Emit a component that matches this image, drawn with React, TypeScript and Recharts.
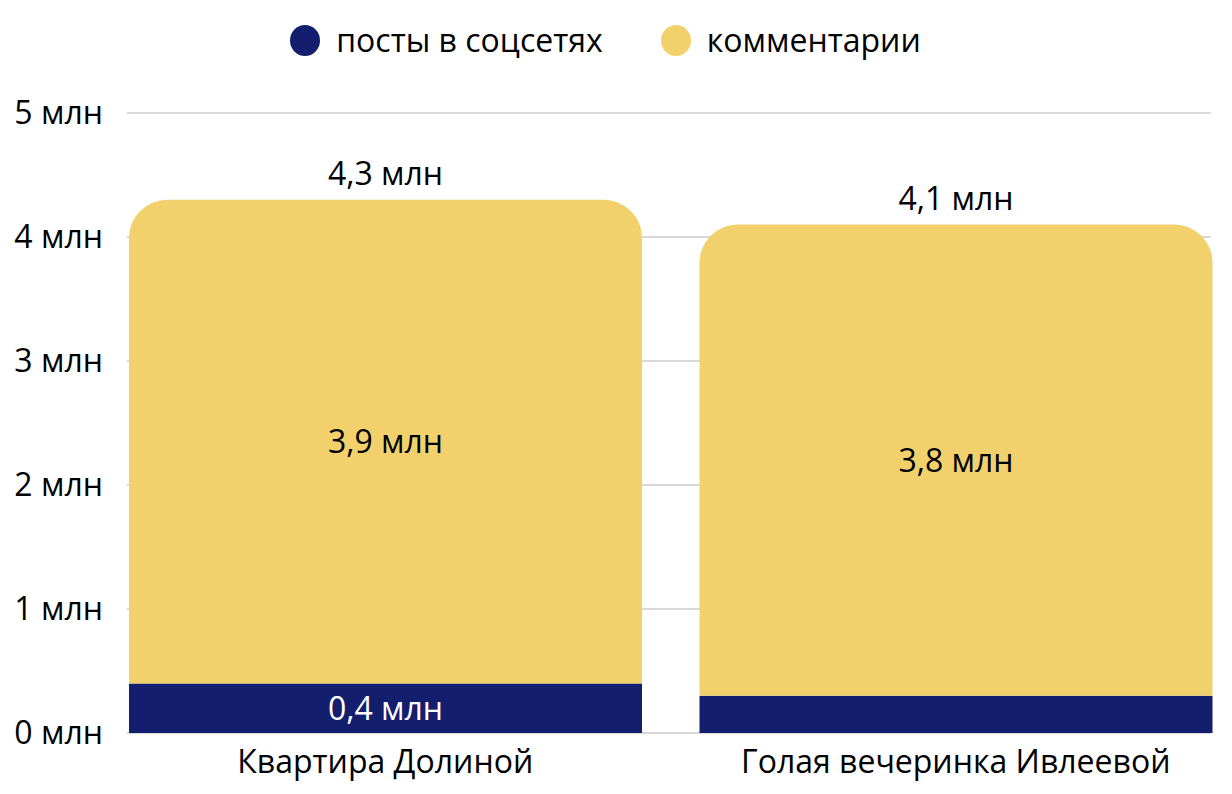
import React from 'react';
import {
  BarChart,
  Bar,
  XAxis,
  YAxis,
  CartesianGrid,
  Legend,
  LabelList,
} from 'recharts';

// categories and values (млн)
const categories = ['Квартира Долиной', 'Голая вечеринка Ивлеевой'];
const posts = [0.4, 0.3];
const comments = [3.9, 3.8];
const totals = [4.3, 4.1];
const postLabels = ['0,4 млн', ''];
const commentLabels = ['3,9 млн', '3,8 млн'];
const totalLabels = ['4,3 млн', '4,1 млн'];
const yTicks = [0, 1, 2, 3, 4, 5];

const NAVY = '#131f6e';
const YELLOW = '#f2d16d';
const FONT = '"Open Sans", sans-serif';

const data = categories.map((name, i) => ({
  name,
  posts: posts[i],
  comments: comments[i],
  total: totals[i],
  postLabel: postLabels[i],
  commentLabel: commentLabels[i],
  totalLabel: totalLabels[i],
}));

const legendItems = [
  { label: 'посты в соцсетях', color: NAVY },
  { label: 'комментарии', color: YELLOW },
];

function LegendContent() {
  return (
    <div
      style={{
        height: 103,
        display: 'flex',
        justifyContent: 'center',
        alignItems: 'flex-start',
        paddingTop: 8,
        boxSizing: 'border-box',
        fontFamily: FONT,
        fontSize: 32,
        color: '#000',
      }}
    >
      {legendItems.map((item) => (
        <div
          key={item.label}
          style={{ display: 'flex', alignItems: 'center', margin: '0 29px' }}
        >
          <span
            style={{
              display: 'inline-block',
              width: 30,
              height: 31,
              borderRadius: '50%',
              background: item.color,
              marginRight: 16,
            }}
          />
          <span style={{ lineHeight: '44px' }}>{item.label}</span>
        </div>
      ))}
    </div>
  );
}

export default function App() {
  return (
    <div style={{ position: 'absolute', left: 0, top: 0, background: '#fff' }}>
      <BarChart
        width={1232}
        height={794}
        data={data}
        margin={{ top: 10, right: 21, bottom: 0, left: 0 }}
        barCategoryGap={29}
      >
        <CartesianGrid vertical={false} stroke='#cccccc' strokeWidth={1.5} />

        <XAxis
          dataKey='name'
          axisLine={false}
          tickLine={false}
          tickSize={0}
          tickMargin={17}
          height={61}
          padding={{ left: -27, right: -30 }}
          tick={{ fontFamily: FONT, fontSize: 32, fill: '#000' }}
        />

        <YAxis
          domain={[0, 5]}
          ticks={yTicks}
          width={127}
          axisLine={false}
          tickLine={false}
          tickSize={0}
          tickMargin={24}
          tickFormatter={(v) => `${v} млн`}
          tick={{ fontFamily: FONT, fontSize: 32, fill: '#000' }}
        />

        <Legend verticalAlign='top' content={<LegendContent />} />

        <Bar dataKey='posts' stackId='a' fill={NAVY} isAnimationActive={false}>
          <LabelList
            dataKey='postLabel'
            position='center'
            fill='#fff'
            style={{ fontFamily: FONT, fontSize: 32 }}
          />
        </Bar>

        <Bar
          dataKey='comments'
          stackId='a'
          fill={YELLOW}
          radius={[38, 38, 0, 0]}
          isAnimationActive={false}
        >
          <LabelList
            dataKey='commentLabel'
            position='center'
            fill='#000'
            style={{ fontFamily: FONT, fontSize: 32 }}
          />
          <LabelList
            dataKey='totalLabel'
            position='top'
            offset={15}
            fill='#000'
            style={{ fontFamily: FONT, fontSize: 32 }}
          />
        </Bar>
      </BarChart>
    </div>
  );
}
